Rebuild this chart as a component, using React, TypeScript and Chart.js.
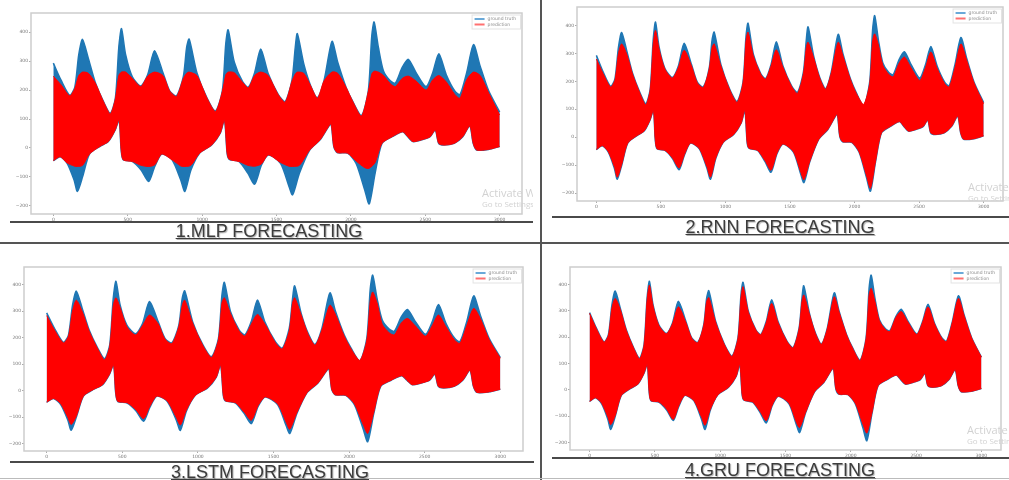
import React, { useEffect, useRef } from "react";
import { Chart, registerables } from "chart.js";

Chart.register(...registerables);

// ---------- data ----------
const X_TICKS = [0, 500, 1000, 1500, 2000, 2500, 3000];
const Y_TICKS = [-200, -100, 0, 100, 200, 300, 400];
const LEGEND_LABELS = ["ground truth", "prediction"];
const TITLES = ["1.MLP FORECASTING", "2.RNN FORECASTING", "3.LSTM FORECASTING", "4.GRU FORECASTING"];

// x positions of the upper-envelope key points
const UPPER_X = [
  0, 52, 110, 144, 171, 196, 235, 281, 338, 383,
  417, 440, 458, 486, 531, 588, 634, 680, 737, 782,
  828, 874, 896, 913, 965, 1033, 1090, 1136, 1159, 1175,
  1216, 1273, 1311, 1353, 1394, 1444, 1512, 1558, 1604, 1626,
  1640, 1683, 1729, 1775, 1820, 1873, 1911, 1968, 2014, 2071,
  2117, 2140, 2156, 2185, 2219, 2265, 2299, 2345, 2386, 2436,
  2505, 2550, 2591, 2641, 2698, 2733, 2778, 2824, 2869, 2926,
  3000,
];
// x positions of the lower-envelope key points
const LOWER_X = [
  0, 46, 93, 139, 162, 197, 243, 312, 370, 416,
  442, 456, 470, 532, 590, 641, 682, 729, 798, 856,
  884, 925, 983, 1064, 1122, 1150, 1168, 1182, 1249, 1307,
  1353, 1399, 1446, 1527, 1584, 1608, 1654, 1723, 1793, 1850,
  1867, 1885, 1908, 1978, 2035, 2093, 2123, 2163, 2209, 2278,
  2348, 2382, 2417, 2475, 2533, 2567, 2590, 2625, 2695, 2752,
  2799, 2822, 2845, 2926, 3000,
];

const TRUTH_UPPER = [
  293, 234, 182, 209, 322, 375, 310, 228, 159, 120,
  172, 347, 412, 322, 246, 214, 253, 336, 260, 197,
  180, 247, 347, 376, 260, 172, 128, 197, 360, 408,
  297, 228, 210, 260, 342, 257, 184, 160, 234, 347,
  395, 291, 216, 174, 234, 368, 297, 209, 159, 112,
  197, 385, 435, 347, 266, 232, 224, 278, 306, 262,
  212, 260, 325, 253, 197, 184, 260, 357, 282, 197,
  124,
];
const TRUTH_LOWER = [
  -44, -30, -53, -110, -150, -99, -21, 5, 22, 62,
  97, -7, -41, -47, -76, -116, -64, -21, -41, -110,
  -150, -76, -18, 10, 51, 97, -18, -39, -47, -87,
  -125, -59, -24, -53, -133, -162, -87, -7, 28, 74,
  83, 5, -16, -18, -53, -145, -193, -87, 16, 39,
  56, 39, 22, 28, 39, 62, 16, 10, 16, 39,
  76, 16, -7, -5, 5,
];

const MLP_UPPER = [
  248, 218, 180, 205, 250, 262, 258, 225, 159, 118,
  170, 250, 262, 262, 240, 212, 248, 262, 250, 197,
  178, 240, 258, 262, 250, 172, 126, 195, 252, 262,
  260, 226, 208, 250, 262, 250, 184, 158, 230, 255,
  262, 258, 215, 172, 232, 262, 258, 209, 159, 110,
  195, 255, 265, 262, 250, 222, 212, 240, 248, 232,
  200, 235, 250, 228, 185, 172, 235, 262, 250, 190,
  114,
];
const MLP_LOWER = [
  -44, -30, -52, -62, -64, -60, -21, 5, 22, 62,
  97, -7, -41, -47, -60, -64, -58, -21, -41, -62,
  -64, -60, -18, 10, 51, 97, -18, -39, -47, -60,
  -63, -55, -24, -50, -63, -64, -60, -7, 28, 74,
  83, 5, -16, -18, -45, -68, -70, -50, 16, 39,
  56, 39, 22, 28, 39, 62, 16, 10, 16, 39,
  76, 16, -7, -5, 5,
];

const RNN_UPPER = [
  280, 228, 180, 205, 300, 334, 298, 225, 157, 116,
  170, 330, 382, 315, 244, 212, 248, 311, 255, 195,
  178, 244, 320, 334, 255, 170, 125, 195, 345, 376,
  292, 226, 208, 255, 313, 252, 182, 157, 228, 320,
  340, 285, 213, 172, 230, 340, 290, 207, 157, 118,
  192, 345, 370, 330, 258, 225, 216, 265, 287, 250,
  203, 250, 305, 245, 192, 180, 250, 334, 275, 194,
  120,
];
const RNN_LOWER = [
  -44, -30, -52, -105, -143, -96, -21, 5, 22, 62,
  97, -7, -41, -47, -74, -110, -62, -21, -41, -105,
  -143, -74, -18, 10, 51, 97, -18, -39, -47, -84,
  -118, -57, -24, -52, -126, -152, -85, -7, 28, 74,
  83, 5, -16, -18, -52, -138, -183, -85, 16, 39,
  56, 39, 22, 28, 39, 62, 16, 10, 16, 39,
  76, 16, -7, -5, 5,
];

const LSTM_UPPER = [
  283, 228, 180, 205, 300, 341, 298, 224, 157, 116,
  168, 320, 350, 312, 240, 210, 245, 285, 252, 194,
  177, 242, 320, 341, 255, 170, 125, 193, 330, 350,
  290, 224, 206, 250, 287, 250, 181, 157, 226, 330,
  350, 285, 212, 171, 228, 322, 285, 205, 156, 114,
  190, 340, 372, 330, 250, 218, 210, 255, 272, 245,
  205, 245, 285, 240, 190, 178, 245, 310, 270, 192,
  122,
];
const LSTM_LOWER = [
  -44, -30, -50, -100, -128, -95, -21, 5, 22, 62,
  97, -7, -41, -46, -72, -106, -60, -21, -40, -100,
  -130, -72, -18, 10, 51, 97, -18, -39, -46, -82,
  -112, -56, -24, -50, -120, -146, -84, -7, 28, 74,
  83, 5, -16, -18, -50, -128, -162, -82, 16, 39,
  56, 39, 22, 28, 39, 62, 16, 10, 16, 39,
  76, 16, -7, -5, 5,
];

const GRU_UPPER = [
  290, 232, 181, 207, 310, 347, 305, 226, 158, 118,
  170, 340, 397, 318, 244, 213, 250, 315, 256, 196,
  179, 245, 335, 350, 257, 171, 127, 196, 350, 391,
  294, 227, 209, 256, 328, 254, 183, 159, 232, 335,
  360, 288, 214, 173, 232, 353, 294, 208, 158, 111,
  195, 360, 385, 335, 262, 229, 221, 275, 297, 258,
  210, 257, 315, 250, 195, 183, 257, 347, 279, 196,
  124,
];
const GRU_LOWER = [
  -44, -30, -51, -102, -132, -96, -21, 5, 22, 62,
  97, -7, -41, -46, -73, -112, -61, -21, -40, -102,
  -134, -73, -18, 10, 51, 97, -18, -39, -46, -83,
  -117, -57, -24, -51, -124, -143, -85, -7, 28, 74,
  83, 5, -16, -18, -51, -130, -164, -84, 16, 39,
  56, 39, 22, 28, 39, 62, 16, 10, 16, 39,
  76, 16, -7, -5, 5,
];

// ---------- styling ----------
const BLUE = "#1f77b4";
const RED = "#ff0000";
const LEGEND_COLORS = ["#6aa9d8", "#ff7070"];

type Box = { left: number; top: number; width: number; height: number };
type Area = { left: number; top: number; right: number; bottom: number };

const toPts = (xs: number[], ys: number[]) => xs.map((x, i) => ({ x, y: ys[i] }));
const fmt = (v: number) => (v < 0 ? "\u2212" + Math.abs(v) : String(v));

const framePlugin = {
  id: "mplFrame",
  afterDatasetsDraw(chart: any) {
    const { ctx, chartArea: a } = chart;
    ctx.save();
    ctx.strokeStyle = "#cdcdcd";
    ctx.lineWidth = 1.5;
    ctx.strokeRect(a.left, a.top, a.right - a.left, a.bottom - a.top);
    ctx.restore();
  },
};

const legendPlugin = {
  id: "mplLegend",
  afterDraw(chart: any) {
    const { ctx, chartArea: a } = chart;
    ctx.save();
    ctx.font = '4.5px "DejaVu Sans", sans-serif';
    const textW = Math.max(...LEGEND_LABELS.map((l) => ctx.measureText(l).width));
    const w = 3 + 10 + 3 + textW + 4;
    const h = 14;
    const x0 = a.right - 2 - w;
    const y0 = a.top + 1.5;
    ctx.fillStyle = "rgba(255,255,255,0.9)";
    ctx.fillRect(x0, y0, w, h);
    ctx.strokeStyle = "#e3e3e3";
    ctx.lineWidth = 1;
    ctx.strokeRect(x0 + 0.5, y0 + 0.5, w, h);
    LEGEND_LABELS.forEach((label, i) => {
      const y = y0 + 4.5 + i * 5.5;
      ctx.strokeStyle = LEGEND_COLORS[i];
      ctx.lineWidth = 2;
      ctx.beginPath();
      ctx.moveTo(x0 + 3, y);
      ctx.lineTo(x0 + 13, y);
      ctx.stroke();
      ctx.fillStyle = "#8a8a8a";
      ctx.textBaseline = "middle";
      ctx.fillText(label, x0 + 16, y);
    });
    ctx.restore();
  },
};

function Panel(props: { predUpper: number[]; predLower: number[]; box: Box; area: Area }) {
  const ref = useRef<HTMLCanvasElement | null>(null);
  const { predUpper, predLower, box, area } = props;

  useEffect(() => {
    if (!ref.current) return;
    const yWidth = area.left - box.left;
    const padTop = area.top - box.top;
    const padRight = box.left + box.width - area.right;
    const xHeight = box.top + box.height - area.bottom;
    const lineCommon = { pointRadius: 0, borderWidth: 1, tension: 0.25 };
    const tickFont = { size: 4.5, family: '"DejaVu Sans", sans-serif' };

    const chart = new Chart(ref.current, {
      type: "line",
      data: {
        datasets: [
          { label: "prediction", data: toPts(UPPER_X, predUpper), fill: "+1", backgroundColor: RED, borderColor: RED, ...lineCommon },
          { label: "prediction lower", data: toPts(LOWER_X, predLower), fill: false, borderColor: RED, ...lineCommon },
          { label: "ground truth", data: toPts(UPPER_X, TRUTH_UPPER), fill: "+1", backgroundColor: BLUE, borderColor: BLUE, ...lineCommon, borderWidth: 1.5 },
          { label: "ground truth lower", data: toPts(LOWER_X, TRUTH_LOWER), fill: false, borderColor: BLUE, ...lineCommon, borderWidth: 1.5 },
        ] as any,
      },
      options: {
        responsive: false,
        animation: false,
        events: [],
        layout: { padding: { left: 0, top: padTop, right: padRight, bottom: 0 } },
        scales: {
          x: {
            type: "linear",
            min: -150,
            max: 3150,
            afterBuildTicks: (axis: any) => {
              axis.ticks = X_TICKS.map((v) => ({ value: v }));
            },
            afterFit: (s: any) => {
              s.height = xHeight;
            },
            ticks: { font: tickFont, color: "#777", padding: 1, maxRotation: 0, autoSkip: false, callback: (v: any) => fmt(Number(v)) },
            grid: { display: true, drawOnChartArea: false, drawTicks: true, tickLength: 2, color: "#aaa" },
            border: { display: false },
          },
          y: {
            type: "linear",
            min: -228,
            max: 466,
            afterBuildTicks: (axis: any) => {
              axis.ticks = Y_TICKS.map((v) => ({ value: v }));
            },
            afterFit: (s: any) => {
              s.width = yWidth;
            },
            ticks: { font: tickFont, color: "#777", padding: 1, autoSkip: false, callback: (v: any) => fmt(Number(v)) },
            grid: { display: true, drawOnChartArea: false, drawTicks: true, tickLength: 2, color: "#aaa" },
            border: { display: false },
          },
        },
        plugins: {
          legend: { display: false },
          tooltip: { enabled: false },
        },
      } as any,
      plugins: [framePlugin, legendPlugin],
    });
    return () => chart.destroy();
  }, []);

  return (
    <canvas
      ref={ref}
      width={box.width}
      height={box.height}
      style={{ position: "absolute", left: box.left, top: box.top, width: box.width, height: box.height }}
    />
  );
}

const PANELS = [
  { predUpper: MLP_UPPER, predLower: MLP_LOWER, box: { left: 0, top: 0, width: 535, height: 222 }, area: { left: 31, top: 13, right: 522, bottom: 214 } },
  { predUpper: RNN_UPPER, predLower: RNN_LOWER, box: { left: 545, top: 0, width: 464, height: 215 }, area: { left: 577, top: 7, right: 1003, bottom: 201 } },
  { predUpper: LSTM_UPPER, predLower: LSTM_LOWER, box: { left: 0, top: 246, width: 535, height: 215 }, area: { left: 24, top: 267, right: 523, bottom: 451 } },
  { predUpper: GRU_UPPER, predLower: GRU_LOWER, box: { left: 545, top: 246, width: 464, height: 211 }, area: { left: 570, top: 267, right: 1001, bottom: 450 } },
];

const CAPTIONS = [
  { center: 269, top: 222 },
  { center: 780, top: 218 },
  { center: 270, top: 463 },
  { center: 780, top: 461 },
];

const RULES = [
  { left: 10, top: 221, width: 523, height: 2, color: "#4a4a4a" },
  { left: 552, top: 216, width: 457, height: 2, color: "#4a4a4a" },
  { left: 10, top: 461, width: 524, height: 2, color: "#4a4a4a" },
  { left: 552, top: 457, width: 457, height: 2, color: "#4a4a4a" },
  { left: 0, top: 242, width: 1009, height: 2, color: "#555" },
  { left: 540, top: 0, width: 2, height: 480, color: "#555" },
  { left: 0, top: 478, width: 1009, height: 1, color: "#bbb" },
];

const WATERMARKS = [
  { left: 482, top: 186, width: 51 },
  { left: 968, top: 180, width: 41 },
  { left: 967, top: 423, width: 42 },
];

export default function App() {
  return (
    <div
      style={{
        position: "fixed",
        left: 0,
        top: 0,
        width: 1009,
        height: 480,
        background: "#fff",
        overflow: "hidden",
        fontFamily: '"Liberation Sans", Arial, sans-serif',
      }}
    >
      {PANELS.map((p, i) => (
        <Panel key={i} predUpper={p.predUpper} predLower={p.predLower} box={p.box} area={p.area} />
      ))}
      {RULES.map((r, i) => (
        <div key={"r" + i} style={{ position: "absolute", left: r.left, top: r.top, width: r.width, height: r.height, background: r.color }} />
      ))}
      {TITLES.map((t, i) => (
        <div
          key={"t" + i}
          style={{
            position: "absolute",
            left: CAPTIONS[i].center - 150,
            width: 300,
            top: CAPTIONS[i].top,
            textAlign: "center",
            fontSize: 18,
            lineHeight: "18px",
            color: "#3c3c3c",
            textDecoration: "underline",
            textShadow: "1px 1px 1px rgba(0,0,0,0.3)",
            whiteSpace: "nowrap",
          }}
        >
          {t}
        </div>
      ))}
      {WATERMARKS.map((w, i) => (
        <div
          key={"w" + i}
          style={{
            position: "absolute",
            left: w.left,
            top: w.top,
            width: w.width,
            overflow: "hidden",
            whiteSpace: "nowrap",
            color: "#d2d2d2",
            fontFamily: '"Open Sans", sans-serif',
          }}
        >
          <div style={{ fontSize: 11, lineHeight: "13px" }}>Activate Windows</div>
          <div style={{ fontSize: 8, lineHeight: "10px" }}>Go to Settings to activate Windows.</div>
        </div>
      ))}
    </div>
  );
}
